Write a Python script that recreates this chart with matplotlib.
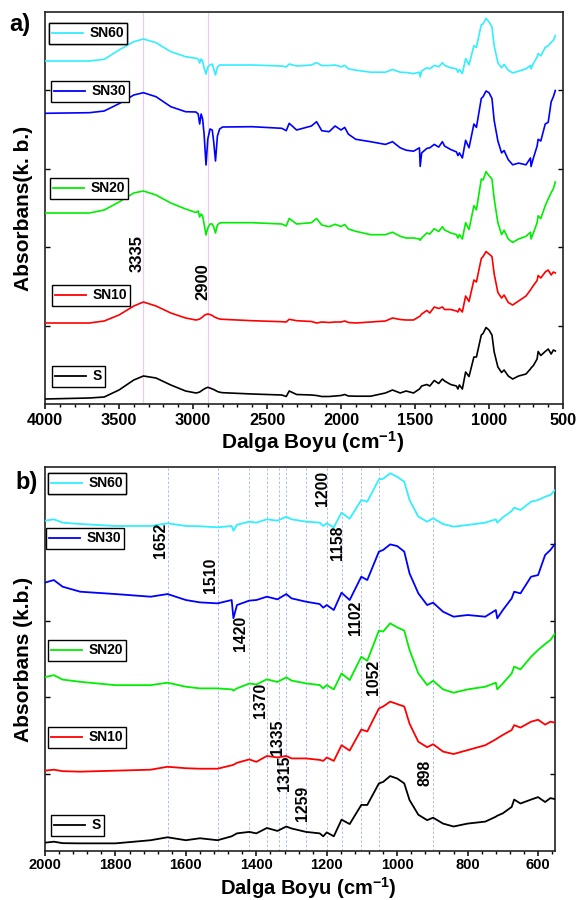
import numpy as np
import matplotlib
matplotlib.use("Agg")
import matplotlib.pyplot as plt
from matplotlib.lines import Line2D
from matplotlib.ticker import AutoMinorLocator, MultipleLocator
from matplotlib.font_manager import FontProperties

plt.rcParams['font.family'] = ['Liberation Sans', 'DejaVu Sans']
plt.rcParams['font.weight'] = 'bold'
plt.rcParams['mathtext.fontset'] = 'custom'
plt.rcParams['mathtext.bf'] = 'Liberation Sans:bold'
plt.rcParams['mathtext.rm'] = 'Liberation Sans:bold'
plt.rcParams['mathtext.default'] = 'bf'

# ---------------- data (wavenumber grid, absorbance with stacking offset) ----------------
wavenumber = [4000, 3700, 3600, 3500, 3400, 3335, 3250, 3150, 3050, 2980,
              2965, 2955, 2945, 2935, 2925, 2912, 2900, 2885, 2870, 2860,
              2848, 2835, 2820, 2800,
              2600, 2400, 2370, 2350, 2300, 2200, 2165, 2130, 2080, 2040,
              2000, 1975, 1950, 1900, 1800, 1700, 1652, 1600, 1560, 1510,
              1470, 1465, 1455, 1420, 1400, 1370, 1340, 1315, 1300, 1259,
              1220, 1210, 1200, 1180, 1158, 1135, 1102, 1085, 1052, 1040,
              1020, 1000, 980, 965, 940, 915, 898, 870, 840, 800,
              750, 720, 716, 700, 675, 668, 650, 620, 600, 580,
              565, 552]

s_vals = [0.05, 0.06, 0.07, 0.14, 0.24, 0.28, 0.26, 0.19, 0.13, 0.11,
          0.115, 0.12, 0.13, 0.14, 0.15, 0.16, 0.167, 0.16, 0.15, 0.145,
          0.135, 0.125, 0.118, 0.113,
          0.10, 0.09, 0.075, 0.13, 0.095, 0.09, 0.085, 0.075, 0.075, 0.08,
          0.085, 0.095, 0.08, 0.078, 0.078, 0.11, 0.14, 0.11, 0.13, 0.11,
          0.15, 0.16, 0.18, 0.195, 0.18, 0.235, 0.205, 0.25, 0.23, 0.195,
          0.18, 0.15, 0.19, 0.15, 0.32, 0.275, 0.47, 0.47, 0.69, 0.705,
          0.765, 0.74, 0.69, 0.52, 0.37, 0.315, 0.34, 0.28, 0.25, 0.28,
          0.30, 0.35, 0.36, 0.385, 0.45, 0.525, 0.485, 0.525, 0.55, 0.50,
          0.54, 0.53]

sn10_vals = [0.81, 0.81, 0.83, 0.89, 0.98, 1.02, 0.98, 0.91, 0.86, 0.84,
             0.845, 0.85, 0.86, 0.87, 0.885, 0.895, 0.90, 0.895, 0.885, 0.875,
             0.865, 0.857, 0.85, 0.847,
             0.833, 0.823, 0.82, 0.847, 0.833, 0.825, 0.81, 0.82, 0.815, 0.82,
             0.82, 0.83, 0.815, 0.81, 0.82, 0.83, 0.86, 0.845, 0.84, 0.84,
             0.875, 0.88, 0.90, 0.935, 0.91, 0.97, 0.955, 0.97, 0.945, 0.945,
             0.93, 0.92, 0.955, 0.92, 1.08, 1.025, 1.24, 1.22, 1.455, 1.475,
             1.525, 1.50, 1.475, 1.30, 1.115, 1.06, 1.09, 1.015, 0.99, 1.03,
             1.08, 1.14, 1.15, 1.185, 1.235, 1.285, 1.26, 1.32, 1.34, 1.29,
             1.32, 1.31]

sn20_vals = [1.91, 1.91, 1.94, 2.02, 2.11, 2.13, 2.09, 2.01, 1.95, 1.915,
             1.93, 1.87, 1.90, 1.88, 1.80, 1.69, 1.76, 1.80, 1.80, 1.77,
             1.71, 1.79, 1.81, 1.813,
             1.813, 1.80, 1.78, 1.855, 1.80, 1.813, 1.855, 1.79, 1.773, 1.797,
             1.775, 1.795, 1.75, 1.727, 1.693, 1.693, 1.718, 1.677, 1.66, 1.66,
             1.65, 1.637, 1.66, 1.71, 1.70, 1.753, 1.725, 1.773, 1.74, 1.711,
             1.694, 1.66, 1.694, 1.65, 1.813, 1.745, 1.983, 1.942, 2.25, 2.24,
             2.324, 2.283, 2.25, 2.052, 1.813, 1.694, 1.738, 1.65, 1.616, 1.65,
             1.677, 1.718, 1.65, 1.711, 1.813, 1.882, 1.854, 1.983, 2.052, 2.113,
             2.154, 2.22]

sn30_vals = [2.907, 2.913, 2.93, 3.003, 3.09, 3.113, 3.073, 2.973, 2.923, 2.92,
             2.90, 2.80, 2.90, 2.85, 2.70, 2.39, 2.65, 2.75, 2.74, 2.62,
             2.43, 2.68, 2.75, 2.77,
             2.773, 2.757, 2.733, 2.807, 2.74, 2.78, 2.823, 2.733, 2.723, 2.78,
             2.74, 2.766, 2.698, 2.647, 2.623, 2.596, 2.623, 2.562, 2.538, 2.528,
             2.562, 2.376, 2.511, 2.556, 2.562, 2.596, 2.569, 2.623, 2.579, 2.545,
             2.521, 2.484, 2.511, 2.46, 2.637, 2.562, 2.80, 2.766, 3.056, 3.073,
             3.13, 3.113, 3.056, 2.834, 2.63, 2.511, 2.535, 2.443, 2.392, 2.409,
             2.392, 2.46, 2.375, 2.46, 2.579, 2.647, 2.63, 2.80, 2.817, 3.022,
             3.073, 3.135]

sn60_vals = [3.43, 3.43, 3.447, 3.54, 3.623, 3.65, 3.613, 3.523, 3.473, 3.457,
             3.45, 3.41, 3.45, 3.43, 3.36, 3.30, 3.37, 3.39, 3.40, 3.35,
             3.29, 3.37, 3.39, 3.39,
             3.39, 3.38, 3.37, 3.40, 3.38, 3.39, 3.413, 3.385, 3.385, 3.39,
             3.372, 3.386, 3.352, 3.338, 3.318, 3.318, 3.345, 3.318, 3.315, 3.304,
             3.318, 3.27, 3.33, 3.362, 3.352, 3.386, 3.372, 3.413, 3.386, 3.362,
             3.352, 3.318, 3.345, 3.304, 3.454, 3.392, 3.583, 3.566, 3.794, 3.80,
             3.856, 3.82, 3.77, 3.583, 3.413, 3.362, 3.396, 3.338, 3.311, 3.328,
             3.352, 3.386, 3.352, 3.406, 3.47, 3.505, 3.481, 3.566, 3.583, 3.617,
             3.634, 3.685]

series_names = ['S', 'SN10', 'SN20', 'SN30', 'SN60']
series_values = [s_vals, sn10_vals, sn20_vals, sn30_vals, sn60_vals]
series_colors = ['#000000', '#ff0000', '#00ee00', '#0000ff', '#33eeff']

peaks_a = [3335, 2900]
peaks_b = [1652, 1510, 1420, 1370, 1335, 1315, 1259, 1200, 1158, 1102, 1052, 898]

# ---------------- layout ----------------
W, H = 578, 900
fig = plt.figure(figsize=(W / 100, H / 100), dpi=100)

def fx(px):
    return px / W

def fy(py):
    return 1 - py / H

ax_a = fig.add_axes([fx(45), fy(404), 518 / W, 392 / H])
ax_b = fig.add_axes([fx(45), fy(851), 510 / W, 384 / H])

YLIM = (0, 3.92)

def style_axes(ax, xlim, major, ticksize, pad):
    ax.set_xlim(*xlim)
    ax.set_ylim(*YLIM)
    ax.xaxis.set_major_locator(MultipleLocator(major))
    ax.xaxis.set_minor_locator(AutoMinorLocator(5))
    ax.set_yticks(np.linspace(YLIM[0], YLIM[1], 6)[1:-1])
    ax.tick_params(axis='y', which='both', direction='in', left=True, right=True,
                   labelleft=False, length=3.5, width=1)
    ax.tick_params(axis='x', which='major', direction='out', length=3.8, width=1.1,
                   labelsize=ticksize, pad=pad, top=False)
    ax.tick_params(axis='x', which='minor', direction='out', length=2.5, width=1,
                   top=False)
    for lab in ax.get_xticklabels():
        lab.set_fontweight('bold')
    for sp in ax.spines.values():
        sp.set_linewidth(1.2)
        sp.set_color('#222222')

# panel a
for vals, col in zip(series_values, series_colors):
    ax_a.plot(wavenumber, vals, color=col, lw=1.2, zorder=3)
for p in peaks_a:
    ax_a.axvline(p, color='#f0c6f8', lw=0.8, zorder=1)
style_axes(ax_a, (4000, 500), 500, 11.8, 2.5)

# panel b
for vals, col in zip(series_values, series_colors):
    ax_b.plot(wavenumber, vals, color=col, lw=1.3, zorder=3)
for p in peaks_b:
    ax_b.axvline(p, color='#aabcf5', lw=0.7, ls=(0, (2.5, 2)), zorder=1)
style_axes(ax_b, (2000, 552), 200, 10.5, 1.5)

# axis labels
xlab = r'Dalga Boyu (cm$^{-1}$)'
ax_a.set_xlabel(xlab, fontsize=15, fontweight='bold')
ax_a.xaxis.label.set_va('baseline')
ax_a.xaxis.set_label_coords(0.517, -0.115)
ax_a.set_ylabel('Absorbans(k. b.)', fontsize=15, fontweight='bold')
ax_a.yaxis.set_label_coords(-0.024, 0.5)

ax_b.set_xlabel(xlab, fontsize=14.5, fontweight='bold')
ax_b.xaxis.label.set_va('baseline')
ax_b.xaxis.set_label_coords(0.516, -0.1146)
ax_b.set_ylabel('Absorbans (k.b.)', fontsize=15, fontweight='bold')
ax_b.yaxis.set_label_coords(-0.024, 0.5)

# panel letters
fig.text(fx(9), fy(13), 'a)', fontsize=17, fontweight='bold', ha='left', va='top')
fig.text(fx(15), fy(471), 'b)', fontsize=17, fontweight='bold', ha='left', va='top')

# peak annotations (rotated)
ann_a = [(3378, 1.51, '3335'), (2932, 1.22, '2900')]
for x, y, t in ann_a:
    ax_a.text(x, y, t, rotation=90, ha='center', va='center', fontsize=12,
              fontweight='bold', zorder=4)

ann_b = [(1673, 3.175, '1652'), (1531, 2.818, '1510'), (1446, 2.225, '1420'),
         (1389, 1.542, '1370'), (1341, 1.164, '1335'), (1321, 0.796, '1315'),
         (1270, 0.49, '1259'), (1212, 3.706, '1200'), (1169, 3.144, '1158'),
         (1118, 2.379, '1102'), (1066, 1.776, '1052'), (921, 0.796, '898')]
for x, y, t in ann_b:
    ax_b.text(x, y, t, rotation=90, ha='center', va='center', fontsize=11.3,
              fontweight='bold', zorder=4)

# individual legend boxes
leg_font = FontProperties(family='Liberation Sans', weight='bold', size=10)
leg_pos_a = {'SN60': (49, 23), 'SN30': (51, 81), 'SN20': (50, 178),
             'SN10': (52, 285), 'S': (52, 366)}
leg_pos_b = {'SN60': (48, 473), 'SN30': (46, 528), 'SN20': (48, 640),
             'SN10': (48, 727), 'S': (51, 815)}

def add_legends(ax, positions, lw):
    for name, col in zip(series_names, series_colors):
        h = Line2D([], [], color=col, lw=lw)
        px, py = positions[name]
        leg = ax.legend(handles=[h], labels=[name], loc='upper left',
                        bbox_to_anchor=(fx(px), fy(py)), bbox_transform=fig.transFigure,
                        frameon=True, fancybox=False, framealpha=1, edgecolor='black',
                        borderpad=0.25, handlelength=2.2, handletextpad=0.45,
                        borderaxespad=0, prop=leg_font)
        leg.get_frame().set_linewidth(1.0)
        leg.set_zorder(5)
        ax.add_artist(leg)

add_legends(ax_a, leg_pos_a, 1.3)
add_legends(ax_b, leg_pos_b, 1.3)

fig.savefig('out.png', dpi=100)
